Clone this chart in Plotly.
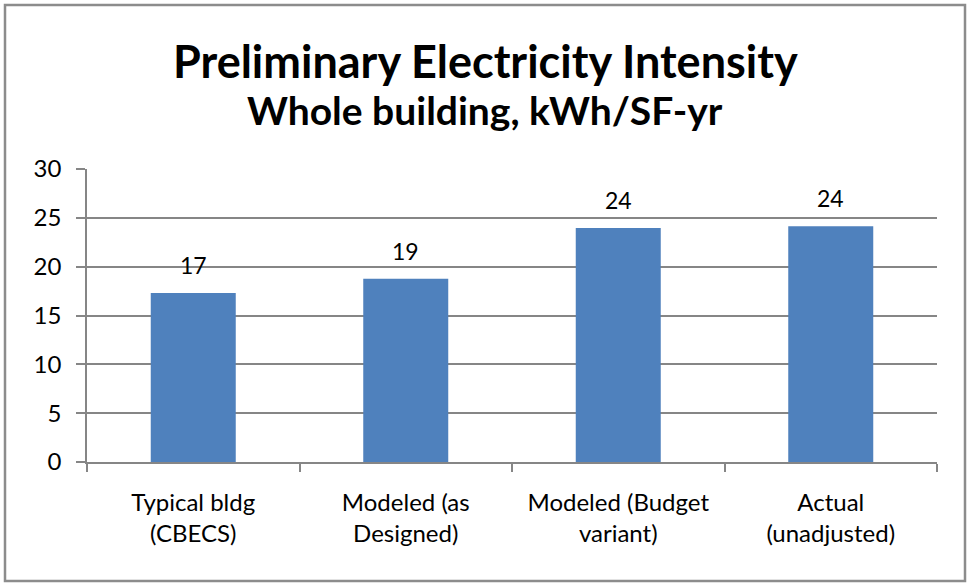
import plotly.graph_objects as go

# chart data
categories = ["Typical bldg<br>(CBECS)", "Modeled (as<br>Designed)", "Modeled (Budget<br>variant)", "Actual<br>(unadjusted)"]
intensity = [17.3, 18.75, 23.95, 24.15]
bar_labels = ["17", "19", "24", "24"]
y_ticks = [0, 5, 10, 15, 20, 25, 30]

W, H = 968, 584
L, R, T, B = 87, 31, 169, 122
pw, ph = W - L - R, H - T - B

def px_x(x):
    return (x - L) / pw

def px_y(y):
    return (H - B - y) / ph

fig = go.Figure()
fig.add_trace(go.Bar(
    x=categories, y=intensity,
    marker=dict(color="#4F81BD", line=dict(width=0)),
    hoverinfo="x+y",
))

# value labels sit a bit above each bar
for c, v, t in zip(categories, intensity, bar_labels):
    fig.add_annotation(x=c, y=v, text=t, showarrow=False, yanchor="bottom",
                       yshift=12, font=dict(size=23, color="black"))

# two-line title, centred on the whole chart box
fig.add_annotation(xref="paper", yref="paper", x=px_x(485), y=px_y(61), yanchor="middle",
                   text="<b>Preliminary Electricity Intensity</b>", showarrow=False,
                   font=dict(size=45, color="black"))
fig.add_annotation(xref="paper", yref="paper", x=px_x(485), y=px_y(110), yanchor="middle",
                   text="<b>Whole building, kWh/SF-yr</b>", showarrow=False,
                   font=dict(size=39, color="black"))

fig.update_layout(
    width=W, height=H,
    margin=dict(l=L, r=R, t=T, b=B),
    paper_bgcolor="white", plot_bgcolor="white",
    font=dict(family="Lato", color="black"),
    bargap=0.6,
    showlegend=False,
)
fig.update_yaxes(
    range=[0, 30], tickvals=y_ticks, showgrid=True, gridcolor="#868686", gridwidth=1.5,
    showline=True, linecolor="#868686", linewidth=1.5,
    ticks="outside", ticklen=9, tickcolor="#868686", tickwidth=1.5,
    tickfont=dict(size=24), ticklabelstandoff=10, zeroline=False, fixedrange=True,
)
fig.update_xaxes(
    showline=True, linecolor="#868686", linewidth=1.5,
    ticks="outside", tickson="boundaries", ticklen=8, tickcolor="#868686", tickwidth=1.5,
    tickfont=dict(size=24), ticklabelstandoff=18, showgrid=False, fixedrange=True,
)
# outer chart border
fig.add_shape(
    type="rect", xref="paper", yref="paper",
    x0=px_x(5), x1=px_x(965), y0=px_y(581), y1=px_y(5),
    line=dict(color="#8C8C8C", width=2.5), layer="below",
)
fig.write_html("out.html", config={"displayModeBar": False},
               post_script="document.body.style.margin='0';")
